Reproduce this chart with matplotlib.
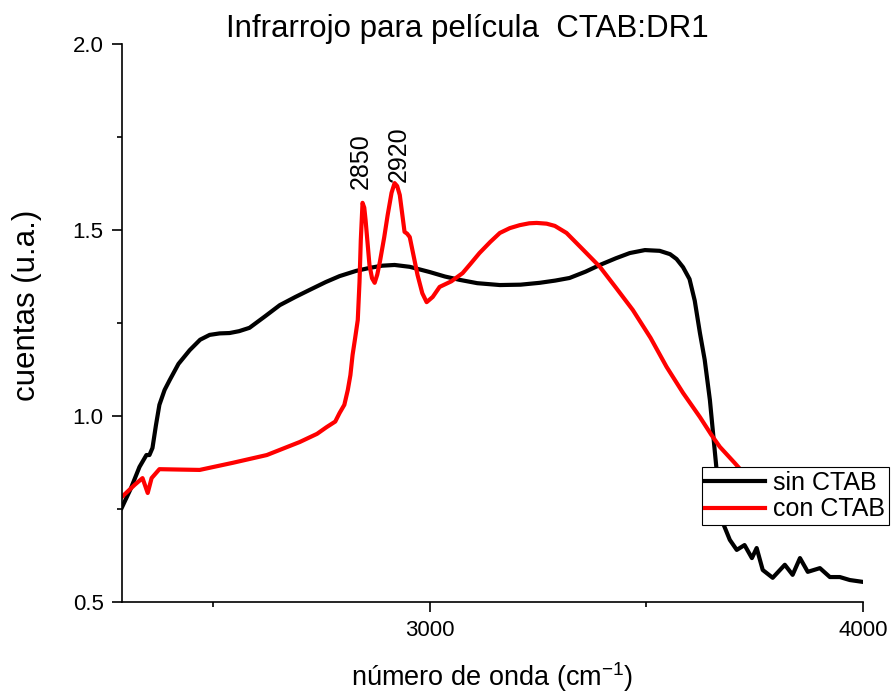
import matplotlib.pyplot as plt
from matplotlib.ticker import MultipleLocator

plt.rcParams["font.family"] = ["Liberation Sans", "DejaVu Sans"]

# spectra (wavenumber, counts)
sin_x = [2289, 2310, 2330, 2346, 2353, 2360, 2368, 2376, 2388, 2400, 2420, 2446,
         2470, 2492, 2515, 2538, 2560, 2584, 2620, 2654, 2690, 2723, 2760, 2792,
         2830, 2861, 2890, 2919, 2954, 3000, 3035, 3069, 3110, 3162, 3210, 3254,
         3290, 3323, 3360, 3393, 3430, 3462, 3497, 3531, 3555, 3570, 3585, 3600,
         3612, 3624, 3635, 3647, 3658, 3667, 3679, 3693, 3709, 3727, 3744, 3755,
         3769, 3792, 3820, 3838, 3855, 3873, 3901, 3924, 3947, 3970, 4000]
sin_y = [0.753, 0.805, 0.863, 0.895, 0.895, 0.914, 0.975, 1.030, 1.070, 1.097,
         1.140, 1.177, 1.205, 1.218, 1.222, 1.223, 1.228, 1.237, 1.268, 1.298,
         1.320, 1.339, 1.360, 1.376, 1.390, 1.398, 1.404, 1.406, 1.401, 1.387,
         1.375, 1.366, 1.357, 1.352, 1.353, 1.358, 1.364, 1.371, 1.388, 1.406,
         1.424, 1.438, 1.446, 1.444, 1.435, 1.422, 1.400, 1.368, 1.310, 1.223,
         1.151, 1.043, 0.909, 0.801, 0.707, 0.667, 0.640, 0.653, 0.618, 0.645,
         0.586, 0.565, 0.600, 0.573, 0.618, 0.581, 0.591, 0.567, 0.567, 0.559,
         0.554]

con_x = [2289, 2319, 2337, 2349, 2358, 2376, 2420, 2469, 2545, 2624, 2700, 2740,
         2762, 2782, 2792, 2803, 2811, 2817, 2822, 2828, 2834, 2838, 2841, 2845,
         2849, 2852, 2857, 2861, 2867, 2873, 2879, 2885, 2895, 2903, 2912, 2919,
         2925, 2931, 2937, 2942, 2948, 2954, 2963, 2972, 2983, 2993, 3007, 3023,
         3050, 3076, 3095, 3115, 3140, 3162, 3185, 3208, 3230, 3247, 3270, 3289,
         3316, 3350, 3393, 3430, 3469, 3510, 3547, 3585, 3624, 3650, 3670, 3704,
         3739]
con_y = [0.782, 0.815, 0.833, 0.793, 0.833, 0.857, 0.856, 0.855, 0.874, 0.895,
         0.930, 0.952, 0.970, 0.985, 1.008, 1.030, 1.070, 1.110, 1.164, 1.210,
         1.258, 1.360, 1.473, 1.573, 1.560, 1.527, 1.460, 1.406, 1.370, 1.358,
         1.380, 1.414, 1.480, 1.540, 1.600, 1.626, 1.618, 1.594, 1.540, 1.495,
         1.490, 1.481, 1.430, 1.379, 1.330, 1.306, 1.320, 1.347, 1.362, 1.384,
         1.410, 1.438, 1.468, 1.492, 1.505, 1.513, 1.518, 1.519, 1.517, 1.511,
         1.492, 1.452, 1.401, 1.345, 1.285, 1.210, 1.132, 1.062, 0.997, 0.950,
         0.917, 0.874, 0.828]

peak_labels = ["2850", "2920"]
peak_x = [2840, 2928]
label_y = [1.61, 1.63]


def main() -> None:
    fig = plt.figure(figsize=(8.95, 6.94), dpi=100)
    ax = fig.add_axes([0.136, 0.1326, 0.828, 0.804])

    ax.plot(sin_x, sin_y, color="black", lw=3.0, label="sin CTAB")
    ax.plot(con_x, con_y, color="#ff0000", lw=3.0, label="con CTAB")

    for lab, px, py in zip(peak_labels, peak_x, label_y):
        ax.text(px, py, lab, rotation=90, ha="center", va="bottom", fontsize=18)

    ax.set_xlim(2289, 4000)
    ax.set_ylim(0.5, 2.0)
    ax.xaxis.set_major_locator(MultipleLocator(1000))
    ax.xaxis.set_minor_locator(MultipleLocator(500))
    ax.yaxis.set_major_locator(MultipleLocator(0.5))
    ax.yaxis.set_minor_locator(MultipleLocator(0.25))
    ax.yaxis.set_major_formatter(plt.FormatStrFormatter("%.1f"))

    for s in ("top", "right"):
        ax.spines[s].set_visible(False)
    for s in ("left", "bottom"):
        ax.spines[s].set_linewidth(1.2)
    ax.tick_params(which="major", length=7, width=1.2, labelsize=16, pad=6)
    ax.tick_params(which="minor", length=3.5, width=1.2)

    ax.set_title("Infrarrojo para película  CTAB:DR1", fontsize=22.5, pad=4, x=0.467)
    ax.set_xlabel("número de onda (cm$^{\\mathregular{-1}}$)", fontsize=19.5, labelpad=14)
    ax.set_ylabel("cuentas (u.a.)", fontsize=22.5)
    ax.yaxis.set_label_coords(-0.107, 0.532)

    leg = fig.legend(loc="upper left", bbox_to_anchor=(0.784, 0.327),
                     fontsize=18, frameon=True, fancybox=False, framealpha=1,
                     edgecolor="black", handlelength=2.4, handletextpad=0.3,
                     borderpad=0.15, labelspacing=0.1, borderaxespad=0)
    leg.get_frame().set_linewidth(0.8)

    fig.savefig("out.png", dpi=100)
    plt.close(fig)


if __name__ == "__main__":
    main()
